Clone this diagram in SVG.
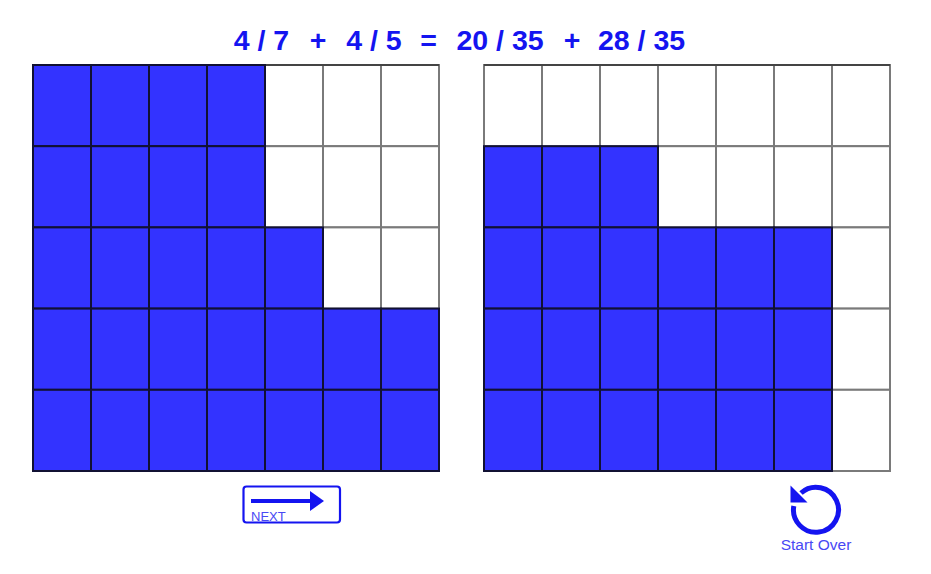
<svg xmlns="http://www.w3.org/2000/svg" width="931" height="574" viewBox="0 0 931 574">
<style>
.t{font-family:"Liberation Sans",Arial,sans-serif;font-weight:bold;font-size:28.5px;fill:#1414f0;text-anchor:middle}
.b{fill:#3333ff;stroke:#111133;stroke-width:2}
.w{fill:#fff;stroke:#7a7a7a;stroke-width:2}
.lbl{font-family:"Liberation Sans",Arial,sans-serif;fill:#4848f4}
</style>
<rect width="931" height="574" fill="#fff"/>
<g id="title">
<text class="t" x="261.5" y="50">4 / 7</text>
<text class="t" x="318" y="50">+</text>
<text class="t" x="374" y="50">4 / 5</text>
<text class="t" x="428.5" y="50">=</text>
<text class="t" x="500" y="50">20 / 35</text>
<text class="t" x="572" y="50">+</text>
<text class="t" x="641.5" y="50">28 / 35</text>
</g>
<g id="left-grid">
<rect class="w" x="265" y="65" width="58" height="81.2"/><rect class="w" x="323" y="65" width="58" height="81.2"/><rect class="w" x="381" y="65" width="58" height="81.2"/>
<rect class="w" x="265" y="146.2" width="58" height="81.2"/><rect class="w" x="323" y="146.2" width="58" height="81.2"/><rect class="w" x="381" y="146.2" width="58" height="81.2"/>
<rect class="w" x="323" y="227.4" width="58" height="81.2"/><rect class="w" x="381" y="227.4" width="58" height="81.2"/>
<line x1="265" y1="65" x2="439" y2="65" stroke="#444" stroke-width="2"/>
<rect class="b" x="33" y="65" width="58" height="81.2"/><rect class="b" x="91" y="65" width="58" height="81.2"/><rect class="b" x="149" y="65" width="58" height="81.2"/><rect class="b" x="207" y="65" width="58" height="81.2"/>
<rect class="b" x="33" y="146.2" width="58" height="81.2"/><rect class="b" x="91" y="146.2" width="58" height="81.2"/><rect class="b" x="149" y="146.2" width="58" height="81.2"/><rect class="b" x="207" y="146.2" width="58" height="81.2"/>
<rect class="b" x="33" y="227.4" width="58" height="81.2"/><rect class="b" x="91" y="227.4" width="58" height="81.2"/><rect class="b" x="149" y="227.4" width="58" height="81.2"/><rect class="b" x="207" y="227.4" width="58" height="81.2"/><rect class="b" x="265" y="227.4" width="58" height="81.2"/>
<rect class="b" x="33" y="308.6" width="58" height="81.2"/><rect class="b" x="91" y="308.6" width="58" height="81.2"/><rect class="b" x="149" y="308.6" width="58" height="81.2"/><rect class="b" x="207" y="308.6" width="58" height="81.2"/><rect class="b" x="265" y="308.6" width="58" height="81.2"/><rect class="b" x="323" y="308.6" width="58" height="81.2"/><rect class="b" x="381" y="308.6" width="58" height="81.2"/>
<rect class="b" x="33" y="389.8" width="58" height="81.2"/><rect class="b" x="91" y="389.8" width="58" height="81.2"/><rect class="b" x="149" y="389.8" width="58" height="81.2"/><rect class="b" x="207" y="389.8" width="58" height="81.2"/><rect class="b" x="265" y="389.8" width="58" height="81.2"/><rect class="b" x="323" y="389.8" width="58" height="81.2"/><rect class="b" x="381" y="389.8" width="58" height="81.2"/>
</g>
<g id="right-grid">
<rect class="w" x="484" y="65" width="58" height="81.2"/><rect class="w" x="542" y="65" width="58" height="81.2"/><rect class="w" x="600" y="65" width="58" height="81.2"/><rect class="w" x="658" y="65" width="58" height="81.2"/><rect class="w" x="716" y="65" width="58" height="81.2"/><rect class="w" x="774" y="65" width="58" height="81.2"/><rect class="w" x="832" y="65" width="58" height="81.2"/>
<rect class="w" x="658" y="146.2" width="58" height="81.2"/><rect class="w" x="716" y="146.2" width="58" height="81.2"/><rect class="w" x="774" y="146.2" width="58" height="81.2"/><rect class="w" x="832" y="146.2" width="58" height="81.2"/>
<rect class="w" x="832" y="227.4" width="58" height="81.2"/><rect class="w" x="832" y="308.6" width="58" height="81.2"/><rect class="w" x="832" y="389.8" width="58" height="81.2"/>
<line x1="484" y1="65" x2="890" y2="65" stroke="#444" stroke-width="2"/>
<rect class="b" x="484" y="146.2" width="58" height="81.2"/><rect class="b" x="542" y="146.2" width="58" height="81.2"/><rect class="b" x="600" y="146.2" width="58" height="81.2"/>
<rect class="b" x="484" y="227.4" width="58" height="81.2"/><rect class="b" x="542" y="227.4" width="58" height="81.2"/><rect class="b" x="600" y="227.4" width="58" height="81.2"/><rect class="b" x="658" y="227.4" width="58" height="81.2"/><rect class="b" x="716" y="227.4" width="58" height="81.2"/><rect class="b" x="774" y="227.4" width="58" height="81.2"/>
<rect class="b" x="484" y="308.6" width="58" height="81.2"/><rect class="b" x="542" y="308.6" width="58" height="81.2"/><rect class="b" x="600" y="308.6" width="58" height="81.2"/><rect class="b" x="658" y="308.6" width="58" height="81.2"/><rect class="b" x="716" y="308.6" width="58" height="81.2"/><rect class="b" x="774" y="308.6" width="58" height="81.2"/>
<rect class="b" x="484" y="389.8" width="58" height="81.2"/><rect class="b" x="542" y="389.8" width="58" height="81.2"/><rect class="b" x="600" y="389.8" width="58" height="81.2"/><rect class="b" x="658" y="389.8" width="58" height="81.2"/><rect class="b" x="716" y="389.8" width="58" height="81.2"/><rect class="b" x="774" y="389.8" width="58" height="81.2"/>
</g>
<g id="next-button">
<rect x="243.5" y="486.5" width="96.5" height="36" rx="3" fill="#fff" stroke="#1414f0" stroke-width="2.2"/>
<line x1="251" y1="501" x2="312" y2="501" stroke="#1414f0" stroke-width="4"/>
<polygon points="310,491 324,501 310,511" fill="#1414f0"/>
<text class="lbl" x="251" y="521" font-size="13">NEXT</text>
</g>
<g id="start-over">
<path d="M793.8 506 A22.5 22.5 0 1 0 801 493" fill="none" stroke="#1414f0" stroke-width="5"/>
<polygon points="790.5,485.5 790.5,502.5 807.5,502.5" fill="#1414f0"/>
<text class="lbl" x="816" y="550" font-size="15.5" text-anchor="middle">Start Over</text>
</g>
</svg>
